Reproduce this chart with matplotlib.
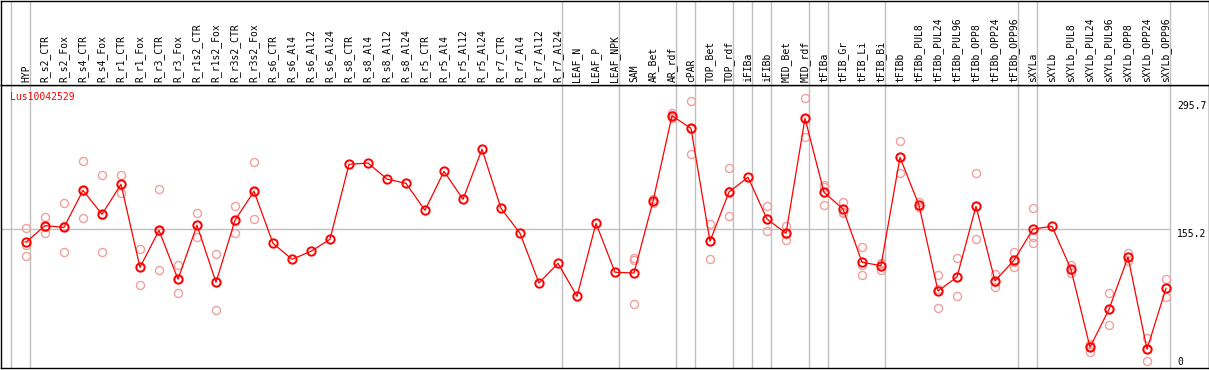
import numpy as np
import matplotlib
matplotlib.use("Agg")
import matplotlib.pyplot as plt


# Data

gene = "Lus10042529"

samples = [
    "HYP", "R_s2_CTR", "R_s2_Fox", "R_s4_CTR", "R_s4_Fox", "R_r1_CTR", "R_r1_Fox",
    "R_r3_CTR", "R_r3_Fox", "R_r1s2_CTR", "R_r1s2_Fox", "R_r3s2_CTR", "R_r3s2_Fox",
    "R_s6_CTR", "R_s6_Al4", "R_s6_Al12", "R_s6_Al24", "R_s8_CTR", "R_s8_Al4",
    "R_s8_Al12", "R_s8_Al24", "R_r5_CTR", "R_r5_Al4", "R_r5_Al12", "R_r5_Al24",
    "R_r7_CTR", "R_r7_Al4", "R_r7_Al12", "R_r7_Al24", "LEAF_N", "LEAF_P", "LEAF_NPK",
    "SAM", "AR_Bet", "AR_rdf", "cPAR", "TOP_Bet", "TOP_rdf", "iFIBa", "iFIBb",
    "MID_Bet", "MID_rdf", "tFIBa", "tFIB_Gr", "tFIB_Li", "tFIB_Bi", "tFIBb",
    "tFIBb_PUL8", "tFIBb_PUL24", "tFIBb_PUL96", "tFIBb_OPP8", "tFIBb_OPP24",
    "tFIBb_OPP96", "sXYLa", "sXYLb", "sXYLb_PUL8", "sXYLb_PUL24", "sXYLb_PUL96",
    "sXYLb_OPP8", "sXYLb_OPP24", "sXYLb_OPP96",
]

mean_vals = [
    141.3, 159.1, 157.3, 197.0, 171.3, 203.5, 114.4, 154.1, 101.6, 159.5,
    98.4, 164.9, 196.0, 140.2, 123.0, 131.6, 144.5, 224.9, 226.3, 209.1,
    204.5, 175.6, 217.4, 187.4, 241.0, 177.7, 150.9, 97.6, 118.7, 83.3,
    161.6, 109.1, 108.3, 185.2, 277.0, 263.5, 142.3, 195.2, 211.0, 166.2,
    150.9, 274.2, 194.9, 177.0, 119.8, 116.2, 232.4, 180.9, 89.0, 104.0,
    179.9, 99.8, 122.0, 155.5, 158.4, 112.3, 28.6, 69.4, 125.5, 26.5,
    91.9,
]

nan = np.nan
rep1 = [
    156.3, 168.1, 183.1, 228.1, 213.1, 213.1, 133.7, 198.1, 116.6, 172.4,
    128.4, 179.9, 227.1, nan, nan, nan, nan, nan, nan, nan,
    nan, nan, nan, nan, nan, nan, nan, nan, nan, nan,
    nan, nan, 124.1, 185.2, 279.6, 292.6, 160.9, 220.6, nan, 179.9,
    158.7, 295.7, 202.7, 184.5, 136.2, 119.1, 249.6, 184.5, 105.9, 124.4,
    215.3, 107.3, 130.9, 177.7, nan, 117.2, 31.9, 86.6, 129.8, 38.6,
    101.6,
]
rep2 = [
    138.0, 150.9, 130.5, 167.0, 130.5, 193.8, 95.1, 111.2, 86.6, 146.6,
    68.3, 150.9, 165.9, nan, nan, nan, nan, nan, nan, nan,
    nan, nan, nan, nan, nan, nan, nan, nan, nan, nan,
    nan, nan, 122.3, 183.1, 274.2, 235.6, 123.0, 169.1, nan, 153.1,
    143.4, 253.9, 200.2, 173.4, 105.9, 111.5, 215.3, 178.8, 70.5, 83.7,
    144.5, 93.0, 114.4, 147.3, nan, 108.0, 23.6, 52.2, 121.2, 14.3,
    82.3,
]
rep3 = [
    126.2, 158.2, 158.4, 196.0, 170.2, 203.5, 114.4, 153.1, 101.6, 159.5,
    98.4, 163.8, 194.9, nan, nan, nan, nan, nan, nan, nan,
    nan, nan, nan, nan, nan, nan, nan, nan, nan, nan,
    nan, nan, 75.1, 187.7, 277.4, 262.8, 143.1, 195.8, nan, 165.8,
    150.5, 273.2, 180.9, 172.4, 117.2, 118.0, 232.3, 179.5, 90.7, 104.0,
    179.9, 99.0, 120.5, 140.8, nan, 111.5, 30.5, 69.3, 125.5, 26.5,
    91.9,
]

# last sample index of each group (-1 = left edge)
group_ends = [-1, 0, 28, 31, 34, 35, 37, 38, 39, 41, 42, 45, 52, 53, 60]

ref_value = 155.2
ytick_labels = ["295.7", "155.2", "0"]


# Layout (pixel based, 1209 x 370)

W, H = 1209, 370
fig = plt.figure(figsize=(W / 100, H / 100), dpi=100)

plot_top, plot_bot = 85, 368
left_px, right_px = 1, 1208.5
ax = fig.add_axes([left_px / W, (H - plot_bot) / H,
                   (right_px - left_px) / W, (plot_bot - plot_top) / H])
hx = fig.add_axes([left_px / W, (H - plot_top) / H,
                   (right_px - left_px) / W, (plot_top - 1) / H], sharex=ax)

x = np.arange(len(samples))
xlim = ((left_px - 26) / 19, (right_px - 26) / 19)
ax.set_xlim(*xlim)
ax.set_ylim(6.4, 310.0)
hx.set_ylim(0, 1)

grey = "#c0c0c0"
red = "#ff0000"
pink = "#f0a0a0"
mono = "DejaVu Sans Mono"

for a in (ax, hx):
    a.set_xticks([])
    a.set_yticks([])
    for s in a.spines.values():
        s.set_linewidth(1.0)
        s.set_color("black")

# group separators, through both panels
for k in group_ends:
    ax.axvline(k + 0.22, color=grey, lw=1.0, zorder=1)
    hx.axvline(k + 0.22, color=grey, lw=1.0, zorder=1)

ax.hlines(ref_value, xlim[0], group_ends[-1] + 0.22, color=grey, lw=1.0, zorder=1)

# replicates
for rep in (rep1, rep2, rep3):
    ax.plot(x, rep, "o", ms=5.8, mfc="none", mec=pink, mew=1.0, zorder=2)

# mean line
ax.plot(x, mean_vals, "-", color=red, lw=0.9, zorder=3)
ax.plot(x, mean_vals, "o", ms=6.0, mfc="none", mec=red, mew=1.4, zorder=4)

# sample labels
for i, name in enumerate(samples):
    hx.text(i, 0.036, name, rotation=90, ha="center", va="bottom",
            fontsize=7, family=mono, color="black")

ax.text(0.0075, 0.9576, gene, transform=ax.transAxes, ha="left", va="center",
        fontsize=7, family=mono, color=red)

ylab_pos = [0.9269, 0.4746, 0.0201]
xlab = (1177 - left_px) / (right_px - left_px)
for lab, yp in zip(ytick_labels, ylab_pos):
    ax.text(xlab, yp, lab, transform=ax.transAxes, ha="left", va="center",
            fontsize=7, family=mono, color="black")

fig.savefig("out.png", dpi=100)
